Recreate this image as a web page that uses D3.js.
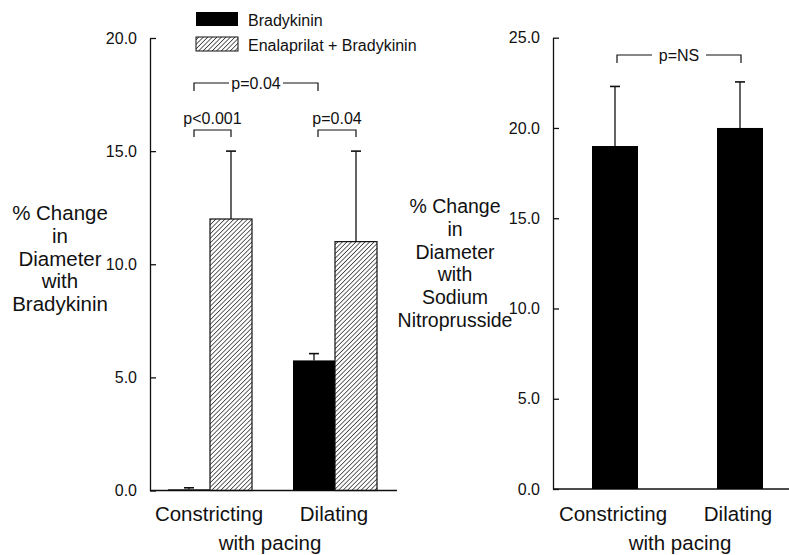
<!DOCTYPE html>
<html>
<head>
<meta charset="utf-8">
<script src="https://cdn.jsdelivr.net/npm/d3@7"></script>
<style>
  body { margin: 0; background: #fff; }
  svg { display: block; font-family: 'Liberation Sans', Arial, sans-serif; }
</style>
</head>
<body>
<script>
;(function () {
  const categories = ['Constricting', 'Dilating']
  const bradykinin = [0.05, 5.75]
  const bradykininErr = [0.12, 6.05]
  const enalaprilat = [12.0, 11.0]
  const enalaprilatErr = [15.0, 15.0]
  const nitroprusside = [19.0, 20.0]
  const nitroprussideErr = [22.3, 22.55]
  const leftTicks = [0, 5, 10, 15, 20]
  const rightTicks = [0, 5, 10, 15, 20, 25]
  const seriesNames = ['Bradykinin', 'Enalaprilat + Bradykinin']

  const svg = d3.select('body').append('svg')
    .attr('width', 789).attr('height', 555)

  const defs = svg.append('defs')
  defs.append('pattern')
    .attr('id', 'hatch')
    .attr('patternUnits', 'userSpaceOnUse')
    .attr('width', 3.2).attr('height', 3.2)
    .attr('patternTransform', 'rotate(45)')
    .append('line')
    .attr('x1', 0).attr('y1', 0).attr('x2', 0).attr('y2', 3.2)
    .attr('stroke', '#111').attr('stroke-width', 1.3)

  function drawAxis(g, y, ticks, x0, x1) {
    const axis = d3.axisLeft(y).tickValues(ticks)
      .tickFormat(d3.format('.1f')).tickSizeInner(-6).tickSizeOuter(0).tickPadding(13)
    const ag = g.append('g').attr('transform', `translate(${x0},0)`).call(axis)
    ag.select('.domain').attr('stroke', '#111').attr('stroke-width', 1.3)
    ag.selectAll('.tick line').attr('stroke', '#111').attr('stroke-width', 1.3)
    ag.selectAll('.tick text').attr('font-size', 16).attr('fill', '#111')
      .attr('font-family', "'Liberation Sans', Arial, sans-serif")
    g.append('line')
      .attr('x1', x0).attr('x2', x1)
      .attr('y1', y(0)).attr('y2', y(0))
      .attr('stroke', '#111').attr('stroke-width', 1.3)
  }

  function errorBar(g, x, yTop, yVal, cap) {
    g.append('line').attr('x1', x).attr('x2', x).attr('y1', yVal).attr('y2', yTop)
      .attr('stroke', '#111').attr('stroke-width', 1.3)
    g.append('line').attr('x1', x - cap / 2).attr('x2', x + cap / 2)
      .attr('y1', yTop).attr('y2', yTop)
      .attr('stroke', '#111').attr('stroke-width', 1.6)
  }

  function bracket(g, x1, x2, y, drop, label, gap) {
    const path = gap
      ? `M${x1},${y + drop}V${y}H${(x1 + x2) / 2 - gap}M${(x1 + x2) / 2 + gap},${y}H${x2}V${y + drop}`
      : `M${x1},${y + drop}V${y}H${x2}V${y + drop}`
    g.append('path').attr('d', path).attr('fill', 'none')
      .attr('stroke', '#111').attr('stroke-width', 1.2)
    g.append('text')
      .attr('x', (x1 + x2) / 2)
      .attr('y', gap ? y + 5.5 : y - 6)
      .attr('text-anchor', 'middle').attr('font-size', 16).attr('fill', '#111')
      .text(label)
  }

  function labels(g, lines, cx, y0, dy, size) {
    g.append('text').attr('text-anchor', 'middle').attr('font-size', size).attr('fill', '#111')
      .selectAll('tspan').data(lines).enter().append('tspan')
      .attr('x', cx).attr('y', (d, i) => y0 + i * dy).text((d) => d)
  }

  // left panel
  const left = svg.append('g')
  const yL = d3.scaleLinear().domain([0, 20]).range([490.5, 38])
  const groupX = { Constricting: 168, Dilating: 293 }
  const barW = 42

  drawAxis(left, yL, leftTicks, 150, 397)

  categories.forEach((c, i) => {
    const x0 = groupX[c]
    left.append('rect').attr('x', x0).attr('width', barW)
      .attr('y', yL(bradykinin[i])).attr('height', yL(0) - yL(bradykinin[i]))
      .attr('fill', '#000')
    errorBar(left, x0 + barW / 2, yL(bradykininErr[i]), yL(bradykinin[i]), 10)
    left.append('rect').attr('x', x0 + barW).attr('width', barW)
      .attr('y', yL(enalaprilat[i])).attr('height', yL(0) - yL(enalaprilat[i]))
      .attr('fill', 'url(#hatch)').attr('stroke', '#111').attr('stroke-width', 1.2)
    errorBar(left, x0 + barW * 1.5, yL(enalaprilatErr[i]), yL(enalaprilat[i]), 10)
    left.append('text').attr('x', x0 + barW - 1).attr('y', 521)
      .attr('text-anchor', 'middle').attr('font-size', 20.5).attr('fill', '#111').text(c)
  })
  left.append('text').attr('x', 270).attr('y', 550)
    .attr('text-anchor', 'middle').attr('font-size', 20.5).attr('fill', '#111').text('with pacing')

  bracket(left, 194, 231, 130, 7, 'p<0.001')
  bracket(left, 318, 356, 130, 7, 'p=0.04')
  bracket(left, 194, 318, 83, 8, 'p=0.04', 27)

  labels(left, ['% Change', 'in', 'Diameter', 'with', 'Bradykinin'], 60, 220, 22.8, 20.5)

  // legend
  const legend = svg.append('g')
  seriesNames.forEach((s, i) => {
    legend.append('rect').attr('x', 196).attr('y', 12 + i * 25).attr('width', 42).attr('height', 14)
      .attr('fill', i === 0 ? '#000' : 'url(#hatch)')
      .attr('stroke', '#111').attr('stroke-width', i === 0 ? 0 : 1)
    legend.append('text').attr('x', 248).attr('y', 25.5 + i * 25)
      .attr('font-size', 16).attr('fill', '#111').text(s)
  })

  // right panel
  const right = svg.append('g')
  const yR = d3.scaleLinear().domain([0, 25]).range([489, 37.7])
  const xR = { Constricting: 592, Dilating: 717 }
  const barWR = 46

  drawAxis(right, yR, rightTicks, 553, 789)

  categories.forEach((c, i) => {
    const x0 = xR[c]
    right.append('rect').attr('x', x0).attr('width', barWR)
      .attr('y', yR(nitroprusside[i])).attr('height', yR(0) - yR(nitroprusside[i]))
      .attr('fill', '#000')
    errorBar(right, x0 + barWR / 2, yR(nitroprussideErr[i]), yR(nitroprusside[i]), 10)
    right.append('text').attr('x', x0 + barWR / 2 - 2).attr('y', 521)
      .attr('text-anchor', 'middle').attr('font-size', 20.5).attr('fill', '#111').text(c)
  })
  right.append('text').attr('x', 680).attr('y', 550)
    .attr('text-anchor', 'middle').attr('font-size', 20.5).attr('fill', '#111').text('with pacing')

  bracket(right, 617, 741, 55, 8, 'p=NS', 27)

  labels(right, ['% Change', 'in', 'Diameter', 'with', 'Sodium', 'Nitroprusside'], 455, 213, 22.8, 19.5)
})()
</script>
</body>
</html>
